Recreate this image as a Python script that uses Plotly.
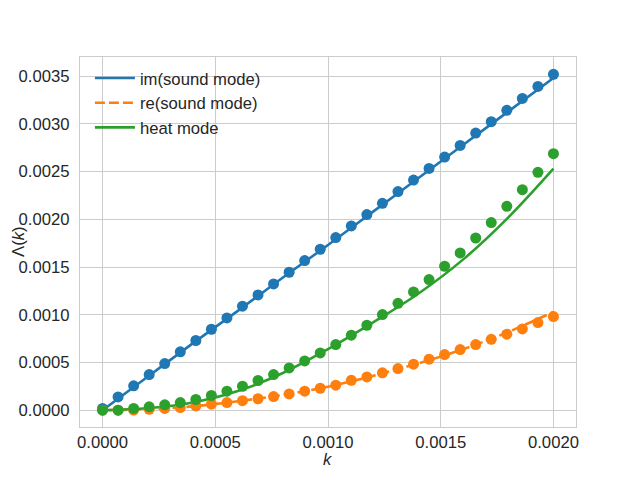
import plotly.graph_objects as go
import numpy as np

# sample points (30 dots)
k_dots = np.linspace(0, 0.002, 30)
im_dots = [0.000018, 0.000139, 0.000255, 0.000373, 0.000489, 0.000611, 0.00073, 0.000848,
           0.000967, 0.00109, 0.001207, 0.001323, 0.001445, 0.001567, 0.001686, 0.001808,
           0.00193, 0.002049, 0.002167, 0.00229, 0.002411, 0.002533, 0.002652, 0.002774,
           0.002903, 0.003022, 0.003141, 0.003266, 0.003392, 0.003518]
re_dots = [0.0, 0.0, 0.000002, 0.00001, 0.000018, 0.000028, 0.000045, 0.000063,
           0.00008, 0.0001, 0.00012, 0.000143, 0.00017, 0.000199, 0.00023, 0.000262,
           0.000313, 0.000349, 0.000391, 0.000436, 0.000482, 0.000534, 0.000583, 0.000635,
           0.000688, 0.000743, 0.000796, 0.000851, 0.000918, 0.000981]
heat_dots = [0.0, 0.0, 0.000018, 0.000035, 0.000056, 0.00008, 0.000112, 0.000154,
             0.000199, 0.000251, 0.000311, 0.000373, 0.000443, 0.000516, 0.0006, 0.000688,
             0.000786, 0.00089, 0.001002, 0.00112, 0.001239, 0.001368, 0.001508, 0.001647,
             0.001804, 0.001965, 0.002136, 0.00231, 0.002492, 0.002687]

# theory curves
k_line = [0.0, 0.0002, 0.0004, 0.0006, 0.0008, 0.0010, 0.0012, 0.0014, 0.0016, 0.0018, 0.0020]
im_line = [0.0, 0.00035, 0.0007, 0.00104, 0.00139, 0.00173, 0.00208, 0.00243, 0.00278, 0.00313, 0.00348]
re_line = [0.0, 0.00001, 0.00004, 0.000094, 0.00016, 0.000246, 0.00036, 0.00049, 0.00064, 0.00082, 0.00103]
heat_line = [0.0, 0.00002, 0.00008, 0.0002, 0.00039, 0.00064, 0.00092, 0.00122, 0.00158, 0.00202, 0.00253]

x_ticks = [0.0, 0.0005, 0.001, 0.0015, 0.002]
y_ticks = [0.0, 0.0005, 0.001, 0.0015, 0.002, 0.0025, 0.003, 0.0035]

BLUE, ORANGE, GREEN = "#1f77b4", "#ff7f0e", "#2ca02c"
FS = 16.67

fig = go.Figure()
fig.add_trace(go.Scatter(x=k_line, y=im_line, mode="lines", name="im(sound mode)",
                         line=dict(color=BLUE, width=2.6, shape="spline")))
fig.add_trace(go.Scatter(x=k_line, y=re_line, mode="lines", name="re(sound mode)",
                         line=dict(color=ORANGE, width=2.6, dash="10px,4px", shape="spline")))
fig.add_trace(go.Scatter(x=k_line, y=heat_line, mode="lines", name="heat mode",
                         line=dict(color=GREEN, width=2.6, shape="spline")))
for ys, c in [(im_dots, BLUE), (re_dots, ORANGE), (heat_dots, GREEN)]:
    fig.add_trace(go.Scatter(x=k_dots, y=ys, mode="markers", showlegend=False,
                             marker=dict(color=c, size=11, line=dict(width=0))))

axis_common = dict(showgrid=True, gridcolor="#cccccc", gridwidth=1, zeroline=False,
                   showline=True, linecolor="#cccccc", linewidth=1.25, mirror=True,
                   ticks="", tickformat=".4f", automargin=False,
                   tickfont=dict(family="Liberation Sans, Arial", size=FS, color="#262626"))

fig.update_layout(
    width=640, height=480,
    margin=dict(l=72, r=72, t=49, b=61),
    plot_bgcolor="white", paper_bgcolor="white",
    font=dict(family="Liberation Sans, Arial", size=FS, color="#262626"),
    xaxis=dict(range=[-0.0001, 0.0021], tickvals=x_ticks, ticklabelstandoff=0, **axis_common),
    yaxis=dict(range=[-0.000176, 0.0037], tickvals=y_ticks, ticklabelstandoff=6, **axis_common),
    legend=dict(x=0.02, y=0.99, xanchor="left", yanchor="top", bgcolor="rgba(0,0,0,0)",
                font=dict(size=FS, color="#262626"), tracegroupgap=0, itemwidth=40),
    showlegend=True,
    annotations=[
        dict(text="<i>k</i>", xref="paper", yref="paper", x=0.5, y=0.0, yshift=-32,
             xanchor="center", yanchor="middle", showarrow=False,
             font=dict(size=FS, color="#262626")),
        dict(text="Λ(<i>k</i>)", xref="paper", yref="paper", x=0.0, xshift=-62, y=0.5,
             xanchor="center", yanchor="middle", textangle=-90, showarrow=False,
             font=dict(size=FS, color="#262626")),
    ],
)

fig.write_html("out.html")
